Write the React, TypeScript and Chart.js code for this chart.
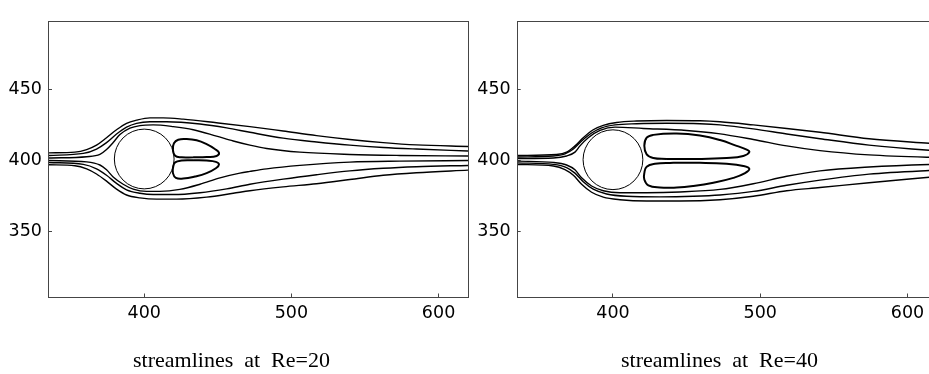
import React, { useEffect, useRef } from 'react';
import { Chart, registerables } from 'chart.js';

Chart.register(...registerables);

type P = [number, number];

// ---------- axes ----------
const xMin = 335.3;
const xMaxLeft = 620;
const xMaxRight = 641.8; // right panel is cut by the window edge
const yMin = 304;
const yMax = 498;
const xTickValues = [400, 500, 600];
const yTickValues = [350, 400, 450];

const titles = ['streamlines  at  Re=20', 'streamlines  at  Re=40'];

// ---------- cylinder ----------
const cylinderRe20 = { x: 400, y: 401, r: 20.3 };
const cylinderRe40 = { x: 400, y: 400.5, r: 20.3 };

// ---------- Re = 20 streamlines ----------
const re20Line1: P[] = [[335.3,405.3],[352.9,405.8],[360.9,407.6],[367.6,410.7],[374.4,415.9],[381.2,421.5],[388.0,426.0],[394.8,428.2],[403.9,429.8],[412.9,429.8],[426.5,428.9],[449.1,426.4],[471.8,423.7],[494.4,420.6],[517.1,417.4],[539.7,414.7],[562.4,412.5],[585.0,410.9],[620,409.8]];
const re20Line2: P[] = [[335.3,403.5],[358.6,404.9],[367.6,408.0],[374.4,412.5],[381.2,418.5],[388.0,423.3],[394.8,426.0],[403.9,427.1],[415.2,427.1],[437.9,425.5],[456.0,422.8],[471.8,419.7],[494.4,415.6],[517.1,412.9],[539.7,410.7],[562.4,409.1],[585.0,408.0],[620,406.6]];
const re20Line3: P[] = [[335.3,401.7],[360.9,402.6],[369.9,404.2],[374.4,407.6],[378.9,412.5],[383.5,418.1],[390.3,422.6],[397.1,424.4],[406.1,424.9],[419.7,423.7],[433.3,421.5],[449.1,417.0],[460.5,413.6],[471.8,410.7],[483.2,408.4],[505.8,405.8],[539.7,404.2],[573.7,403.5],[620,403.1]];
const re20Line4: P[] = [[335.3,399.9],[360.9,399.0],[369.9,396.8],[374.4,393.4],[378.9,388.4],[385.7,383.3],[392.5,379.9],[401.6,378.3],[410.7,378.3],[424.2,379.7],[437.9,383.3],[451.5,387.8],[465.0,391.1],[471.8,392.3],[483.2,394.1],[505.8,396.5],[539.7,398.8],[573.7,399.5],[620,399.9]];
const re20Line5: P[] = [[335.3,398.6],[358.6,397.2],[367.6,394.1],[374.4,389.6],[381.2,383.9],[388.0,379.4],[397.1,377.0],[406.1,376.1],[419.7,376.1],[437.9,377.4],[456.0,380.1],[471.8,383.3],[494.4,386.9],[517.1,390.0],[539.7,392.7],[562.4,394.5],[585.0,395.6],[620,396.5]];
const re20Line6: P[] = [[335.3,397.0],[352.9,396.3],[360.9,394.1],[367.6,390.5],[374.4,385.5],[381.2,379.9],[388.0,375.8],[397.1,373.8],[408.4,372.9],[422.0,372.9],[442.4,374.3],[460.5,377.0],[471.8,378.8],[494.4,381.5],[517.1,383.7],[539.7,386.6],[562.4,389.6],[585.0,391.4],[620,393.2]];
const re20BubbleUpper: P[] = [[433.3,402.2],[425.4,402.2],[421.0,403.2],[419.5,407.5],[420.2,412.0],[423.1,414.5],[428.8,415.0],[435.6,414.1],[442.4,411.4],[448.0,408.0],[450.8,405.3],[449.2,403.1],[442.4,402.4],[433.3,402.2]];
const re20BubbleLower: P[] = [[433.3,400.1],[442.4,399.9],[448.7,399.0],[450.8,397.2],[448.7,394.5],[442.4,391.1],[434.5,388.7],[426.5,387.3],[421.5,387.8],[419.5,391.1],[419.7,395.6],[421.0,398.6],[425.4,399.9],[433.3,400.1]];

// ---------- Re = 40 streamlines ----------
const re40Line1: P[] = [[335.2,403.5],[361.7,404.2],[368.5,405.8],[374.2,410.2],[379.8,415.9],[386.6,421.5],[393.4,424.6],[402.5,426.6],[416.1,427.6],[436.5,428.0],[459.1,427.8],[472.7,427.1],[495.3,424.9],[518.0,422.4],[540.6,419.7],[573.9,415.2],[614.7,412.0],[620,411.6]];
const re40Line2: P[] = [[335.2,402.4],[359.5,403.1],[367.4,404.6],[373.1,408.0],[378.7,413.6],[385.5,419.2],[392.3,422.8],[401.4,424.9],[416.1,425.7],[436.5,426.0],[459.1,425.7],[472.7,424.9],[495.3,422.1],[518.0,418.5],[540.6,415.2],[573.9,410.7],[614.7,407.1],[620,406.8]];
const re40Line3: P[] = [[335.2,401.3],[359.5,401.7],[368.5,403.1],[374.2,405.8],[377.6,410.2],[383.2,415.9],[391.2,421.0],[401.4,423.3],[420.6,422.4],[450.0,421.0],[471.6,418.8],[495.3,414.7],[518.0,410.2],[540.6,406.9],[573.9,403.9],[614.7,402.2],[620,402.1]];
const re40Line4: P[] = [[335.2,399.5],[359.5,398.6],[368.5,396.8],[374.2,393.4],[378.7,387.8],[385.5,382.1],[393.4,378.8],[404.8,377.4],[422.9,377.4],[445.5,377.9],[472.7,379.7],[495.3,383.7],[518.0,388.9],[540.6,392.7],[573.9,395.4],[614.7,397.2],[620,397.3]];
const re40Line5: P[] = [[335.2,398.3],[359.5,397.2],[368.5,395.0],[374.2,391.1],[379.8,385.1],[386.6,379.9],[395.7,376.5],[409.3,374.9],[431.9,374.5],[454.6,374.9],[472.7,375.8],[495.3,378.3],[518.0,382.6],[540.6,386.2],[573.9,390.4],[614.7,392.9],[620,393.1]];
const re40Line6: P[] = [[335.2,397.2],[359.5,396.1],[367.4,393.6],[373.1,389.6],[378.7,383.3],[385.5,377.7],[393.4,374.3],[404.8,372.5],[422.9,371.6],[445.5,371.6],[472.7,372.5],[495.3,374.9],[518.0,378.8],[540.6,381.0],[573.9,384.4],[614.7,388.2],[620,388.7]];
const re40BubbleUpper: P[] = [[436.5,401.0],[427.4,401.7],[422.9,404.2],[421.3,410.2],[422.9,415.9],[427.4,417.9],[443.3,418.8],[459.1,417.4],[472.7,414.3],[484.0,410.2],[490.8,407.6],[492.6,405.8],[488.5,403.1],[477.2,401.7],[454.6,401.0],[436.5,401.0]];
const re40BubbleLower: P[] = [[441.0,398.3],[459.1,398.3],[477.2,397.6],[488.5,396.1],[492.6,394.1],[489.7,391.1],[481.8,387.8],[468.2,384.4],[454.6,382.1],[443.3,381.0],[431.9,381.0],[424.0,382.6],[421.3,386.6],[421.3,391.1],[422.9,395.6],[428.5,397.6],[441.0,398.3]];

const AXIS_COLOR = '#454545';
const TITLE_SIZE = 22;
const X_AXIS_HEIGHT = 374 - TITLE_SIZE * 1.2 - 297.5;

const framePlugin = {
  id: 'frame',
  afterDatasetsDraw(chart: any) {
    const { ctx, chartArea } = chart;
    const l = Math.round(chartArea.left) - 0.5;
    const t = Math.round(chartArea.top) + 0.5;
    const r = Math.round(chartArea.right) + 0.5;
    const b = Math.round(chartArea.bottom) - 0.5;
    ctx.save();
    ctx.strokeStyle = AXIS_COLOR;
    ctx.lineWidth = 1;
    ctx.strokeRect(l, t, r - l, b - t);
    ctx.restore();
  },
};

interface PanelSpec {
  lines: P[][];
  bubbles: P[][];
  cylinder: { x: number; y: number; r: number };
  xMax: number;
  yAxisWidth: number;
  padRight: number;
  title: string;
}

function buildConfig(spec: PanelSpec): any {
  const toXY = (pts: P[]) => pts.map(([x, y]) => ({ x, y }));
  const datasets: any[] = [];
  spec.lines.forEach((pts) =>
    datasets.push({
      data: toXY(pts),
      showLine: true,
      borderColor: '#000',
      borderWidth: 1.4,
      pointRadius: 0,
      cubicInterpolationMode: 'monotone',
      fill: false,
    })
  );
  spec.bubbles.forEach((pts) =>
    datasets.push({
      data: toXY(pts),
      showLine: true,
      borderColor: '#000',
      borderWidth: 2,
      pointRadius: 0,
      tension: 0.45,
      fill: false,
    })
  );
  const cyl = spec.cylinder;
  datasets.push({
    data: [{ x: cyl.x, y: cyl.y }],
    showLine: false,
    pointStyle: 'circle',
    pointRadius: (ctx: any) => {
      const s = ctx.chart.scales.x;
      return Math.abs(s.getPixelForValue(cyl.x + cyl.r) - s.getPixelForValue(cyl.x));
    },
    pointBorderWidth: 1,
    pointBorderColor: '#000',
    pointBackgroundColor: 'rgba(0,0,0,0)',
  });

  const tickFont = { family: '"DejaVu Sans", sans-serif', size: 17.5 };

  return {
    type: 'scatter',
    data: { datasets },
    options: {
      responsive: false,
      animation: false,
      events: [],
      devicePixelRatio: 1,
      layout: { padding: { top: 10, right: spec.padRight, left: 0, bottom: 0 } },
      plugins: {
        legend: { display: false },
        tooltip: { enabled: false },
        title: {
          display: true,
          text: spec.title,
          position: 'bottom',
          color: '#000',
          font: { family: '"Liberation Serif", "Times New Roman", serif', size: TITLE_SIZE, weight: 'normal', lineHeight: 1.2 },
          padding: { top: 0, bottom: 0 },
        },
      },
      scales: {
        x: {
          type: 'linear',
          min: xMin,
          max: spec.xMax,
          afterBuildTicks: (s: any) => {
            s.ticks = xTickValues.map((v) => ({ value: v }));
          },
          afterFit: (s: any) => {
            s.height = X_AXIS_HEIGHT;
          },
          ticks: {
            autoSkip: false,
            maxRotation: 0,
            color: '#000',
            padding: 9,
            font: tickFont,
          },
          grid: { drawOnChartArea: false, drawTicks: true, tickLength: -4, color: AXIS_COLOR, lineWidth: 1 },
          border: { display: false },
        },
        y: {
          type: 'linear',
          min: yMin,
          max: yMax,
          afterBuildTicks: (s: any) => {
            s.ticks = yTickValues.map((v) => ({ value: v }));
          },
          afterFit: (s: any) => {
            s.width = spec.yAxisWidth;
          },
          ticks: {
            autoSkip: false,
            color: '#000',
            padding: 10,
            font: tickFont,
          },
          grid: { drawOnChartArea: false, drawTicks: true, tickLength: -3, color: AXIS_COLOR, lineWidth: 1 },
          border: { display: false },
        },
      },
    },
    plugins: [framePlugin],
  };
}

function Panel(props: { spec: PanelSpec; left: number; width: number }) {
  const ref = useRef<HTMLCanvasElement>(null);
  useEffect(() => {
    if (!ref.current) return;
    const chart = new Chart(ref.current, buildConfig(props.spec));
    return () => chart.destroy();
  }, []);
  return (
    <canvas
      ref={ref}
      width={props.width}
      height={374}
      style={{ position: 'absolute', left: props.left, top: 0, width: props.width, height: 374, display: 'block' }}
    />
  );
}

export default function App() {
  const leftSpec: PanelSpec = {
    lines: [re20Line1, re20Line2, re20Line3, re20Line4, re20Line5, re20Line6],
    bubbles: [re20BubbleUpper, re20BubbleLower],
    cylinder: cylinderRe20,
    xMax: xMaxLeft,
    yAxisWidth: 54,
    padRight: 2,
    title: titles[0],
  };
  const rightSpec: PanelSpec = {
    lines: [re40Line1, re40Line2, re40Line3, re40Line4, re40Line5, re40Line6],
    bubbles: [re40BubbleUpper, re40BubbleLower],
    cylinder: cylinderRe40,
    xMax: xMaxRight,
    yAxisWidth: 47.7,
    padRight: 0,
    title: titles[1],
  };
  return (
    <div
      style={{
        position: 'absolute',
        left: 0,
        top: 0,
        width: 929,
        height: 374,
        overflow: 'hidden',
        background: '#fff',
      }}
    >
      <Panel spec={leftSpec} left={-5} width={475} />
      <Panel spec={rightSpec} left={470} width={499} />
    </div>
  );
}
